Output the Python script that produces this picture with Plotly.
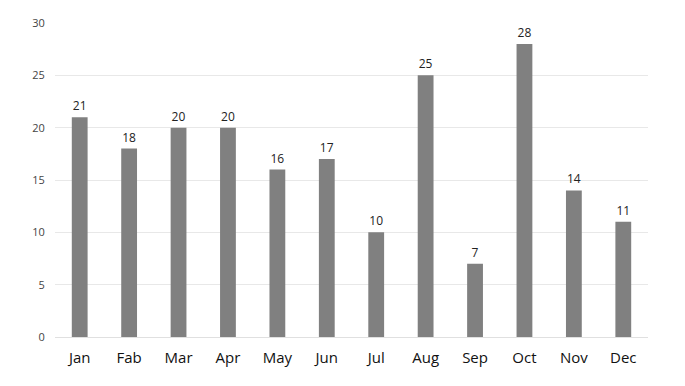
import plotly.graph_objects as go

months = ["Jan", "Fab", "Mar", "Apr", "May", "Jun", "Jul", "Aug", "Sep", "Oct", "Nov", "Dec"]
values = [21, 18, 20, 20, 16, 17, 10, 25, 7, 28, 14, 11]
y_ticks = [0, 5, 10, 15, 20, 25, 30]

fig = go.Figure(go.Bar(
    x=months, y=values, width=0.32,
    marker=dict(color="#808080", line=dict(width=0)),
    text=[str(v) for v in values], textposition="outside",
    textfont=dict(size=12, color="#222222", family="Open Sans"),
    cliponaxis=False,
))

fig.update_layout(
    width=685, height=386,
    margin=dict(l=55, r=37, t=23, b=49),
    paper_bgcolor="white", plot_bgcolor="white",
    showlegend=False,
    font=dict(family="Open Sans"),
)
fig.update_yaxes(
    range=[0, 30], tickvals=y_ticks, showgrid=True, gridcolor="#e8e8e8", gridwidth=1,
    zeroline=True, zerolinecolor="#e0e0e0", zerolinewidth=1,
    tickfont=dict(size=11, color="#444444"), ticks="outside", ticklen=7, tickcolor="rgba(0,0,0,0)",
    showline=False,
)
fig.update_xaxes(
    tickfont=dict(size=15, color="#111111"), showline=False, showgrid=False,
    ticks="outside", ticklen=7, tickcolor="rgba(0,0,0,0)",
)

fig.write_html(
    "out.html",
    config={"displayModeBar": False},
    post_script="document.body.style.margin='0';document.body.style.overflow='hidden';",
)
